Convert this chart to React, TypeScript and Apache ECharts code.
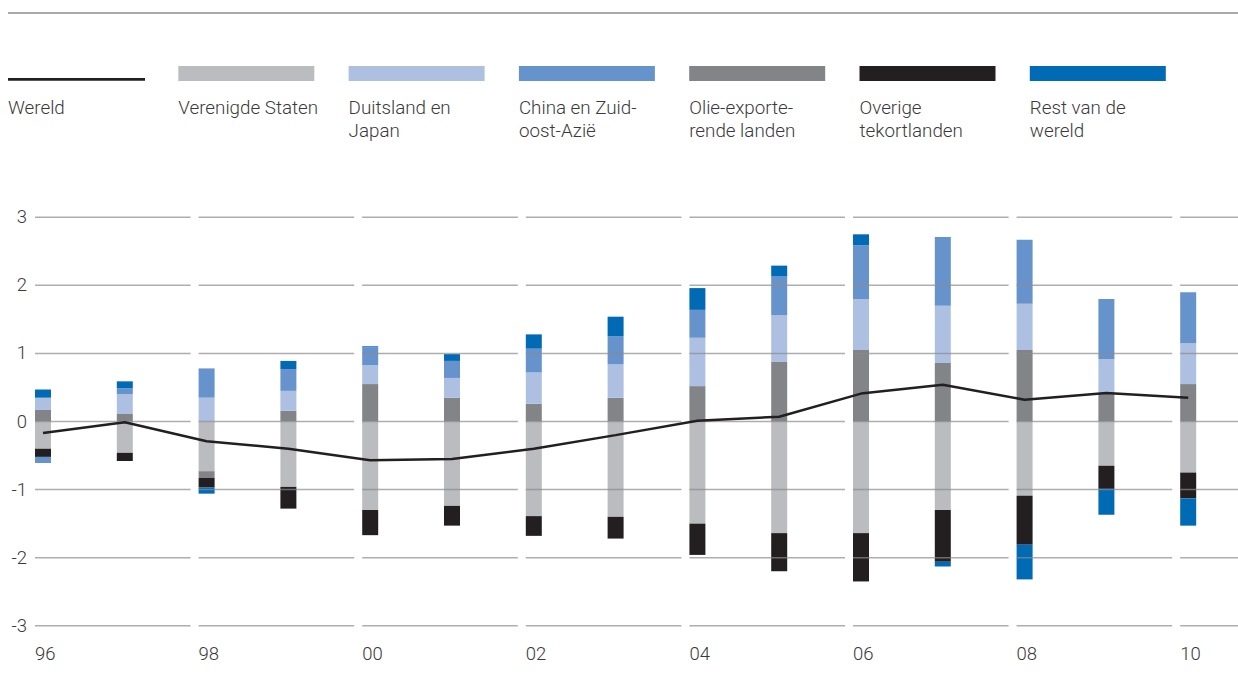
import React, { useEffect, useRef } from 'react';
import * as echarts from 'echarts';

// Years on the category axis (two-digit labels, only even years are printed)
const years = ['96', '97', '98', '99', '00', '01', '02', '03', '04', '05', '06', '07', '08', '09', '10'];
const yTicks = [-3, -2, -1, 0, 1, 2, 3];

// Current-account balances, % of world GDP
const wereld = [-0.17, -0.01, -0.29, -0.4, -0.57, -0.55, -0.4, -0.2, 0.01, 0.07, 0.41, 0.54, 0.32, 0.42, 0.35];
const verenigdeStaten = [-0.4, -0.46, -0.73, -0.96, -1.3, -1.24, -1.39, -1.4, -1.5, -1.64, -1.64, -1.3, -1.09, -0.65, -0.75];
const olieExporterend = [0.17, 0.11, -0.1, 0.16, 0.55, 0.35, 0.26, 0.35, 0.52, 0.88, 1.05, 0.86, 1.05, 0.42, 0.55];
const duitslandJapan = [0.18, 0.29, 0.35, 0.29, 0.28, 0.29, 0.46, 0.49, 0.71, 0.68, 0.75, 0.84, 0.68, 0.5, 0.6];
const overigeTekort = [-0.12, -0.12, -0.14, -0.32, -0.37, -0.29, -0.29, -0.32, -0.46, -0.56, -0.71, -0.76, -0.72, -0.34, -0.38];
const chinaZOAzie = [-0.09, 0.09, 0.43, 0.32, 0.26, 0.25, 0.35, 0.41, 0.41, 0.57, 0.79, 1.01, 0.94, 0.88, 0.75];
const restWereld = [0.12, 0.1, -0.09, 0.12, 0.015, 0.1, 0.21, 0.29, 0.32, 0.16, 0.16, -0.07, -0.51, -0.38, -0.4];

const COLORS = {
  wereld: '#231f20',
  vs: '#bbbcbf',
  dj: '#adc0e1',
  china: '#6693cc',
  olie: '#838488',
  overige: '#231f20',
  rest: '#006ab5',
};

const legendLabels = [
  'Wereld',
  'Verenigde Staten',
  'Duitsland en\nJapan',
  'China en Zuid-\noost-Azië',
  'Olie-exporte-\nrende landen',
  'Overige\ntekortlanden',
  'Rest van de\nwereld',
];
const legendColors = [COLORS.wereld, COLORS.vs, COLORS.dj, COLORS.china, COLORS.olie, COLORS.overige, COLORS.rest];

const FONT = "Roboto, 'Liberation Sans', sans-serif";
const TEXT_COLOR = '#3a3a3a';
const GRID_COLOR = 'rgba(140,140,140,0.7)';

export default function App() {
  const ref = useRef<HTMLDivElement>(null);

  useEffect(() => {
    document.body.style.margin = '0';
    if (!ref.current) return;
    const chart = echarts.init(ref.current, null, { renderer: 'svg' });

    const legendGraphics: any[] = [];
    legendLabels.forEach((label, i) => {
      const x = 8 + i * 170.3;
      if (i === 0) {
        legendGraphics.push({
          type: 'line',
          shape: { x1: x, y1: 79.3, x2: x + 137, y2: 79.3 },
          style: { stroke: legendColors[i], lineWidth: 2.8 },
        });
      } else {
        legendGraphics.push({
          type: 'rect',
          shape: { x, y: 66, width: 136, height: 15 },
          style: { fill: legendColors[i] },
        });
      }
      legendGraphics.push({
        type: 'text',
        x,
        y: 96.5,
        style: {
          text: label,
          fill: TEXT_COLOR,
          font: `300 18.8px ${FONT}`,
          lineHeight: 23,
          verticalAlign: 'top',
          align: 'left',
        },
      });
    });

    const barBase = {
      type: 'bar' as const,
      stack: 'saldo',
      barWidth: 16,
      silent: true,
      z: 2,
    };

    chart.setOption({
      animation: false,
      grid: { left: 2.1, right: 8.9, top: 217.3, bottom: 60.3 },
      xAxis: {
        type: 'category',
        data: years,
        axisLine: { show: false },
        axisTick: { show: false },
        axisLabel: { show: false },
        splitLine: { show: false },
      },
      yAxis: {
        type: 'value',
        min: -3,
        max: 3,
        interval: 1,
        axisLine: { show: false },
        axisTick: { show: false },
        splitLine: { show: false },
        axisLabel: {
          inside: true,
          align: 'right',
          margin: 25,
          padding: [0, 0, 14, 0],
          fontSize: 18.5,
          fontWeight: 300,
          fontFamily: FONT,
          color: TEXT_COLOR,
        },
      },
      graphic: [
        {
          type: 'line',
          shape: { x1: 8, y1: 13, x2: 1238, y2: 13 },
          style: { stroke: '#8c8c8c', lineWidth: 1.5 },
        },
        ...legendGraphics,
      ],
      series: [
        { ...barBase, name: 'Verenigde Staten', data: verenigdeStaten, itemStyle: { color: COLORS.vs } },
        { ...barBase, name: 'Olie-exporterende landen', data: olieExporterend, itemStyle: { color: COLORS.olie } },
        { ...barBase, name: 'Duitsland en Japan', data: duitslandJapan, itemStyle: { color: COLORS.dj } },
        { ...barBase, name: 'Overige tekortlanden', data: overigeTekort, itemStyle: { color: COLORS.overige } },
        { ...barBase, name: 'China en Zuidoost-Azië', data: chinaZOAzie, itemStyle: { color: COLORS.china } },
        { ...barBase, name: 'Rest van de wereld', data: restWereld, itemStyle: { color: COLORS.rest } },
        {
          // broken horizontal gridlines per two-year block, with the year label underneath
          type: 'custom',
          silent: true,
          z: 3,
          data: years.map((_, i) => [i, 0]).filter((d) => d[0] % 2 === 0),
          encode: { x: 0, y: 1 },
          renderItem: (params: any, api: any) => {
            const i = api.value(0) as number;
            const start = api.coord([i, 0])[0] - 8;
            const end = i + 2 < years.length ? api.coord([i + 2, 0])[0] - 16 : api.getWidth();
            const children: any[] = yTicks.map((t) => {
              const y = api.coord([i, t])[1];
              return {
                type: 'line',
                shape: { x1: start, y1: y, x2: end, y2: y },
                style: { stroke: GRID_COLOR, lineWidth: 1.5 },
              };
            });
            children.push({
              type: 'text',
              x: start,
              y: api.coord([i, -3])[1] + 28,
              style: {
                text: years[i],
                fill: TEXT_COLOR,
                font: `300 18.5px ${FONT}`,
                verticalAlign: 'middle',
                align: 'left',
              },
            });
            return { type: 'group', children };
          },
        },
        {
          type: 'line',
          name: 'Wereld',
          data: wereld,
          symbol: 'none',
          silent: true,
          z: 4,
          lineStyle: { color: COLORS.wereld, width: 2.5 },
        },
      ],
    });

    return () => chart.dispose();
  }, []);

  return <div ref={ref} style={{ width: 1238, height: 686 }} />;
}
